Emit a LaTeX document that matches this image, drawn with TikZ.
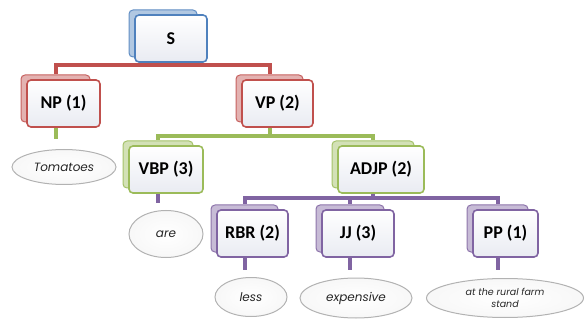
\documentclass[tikz,border=0pt]{standalone}
\usepackage{fontspec}
\setmainfont{Carlito}
\newfontfamily\leaffont{Poppins}
\usetikzlibrary{shapes.geometric,backgrounds}

\definecolor{tred}{HTML}{C0504D}
\definecolor{tgreen}{HTML}{9BBB59}
\definecolor{tpurple}{HTML}{8064A2}
\definecolor{tblue}{HTML}{4F81BD}
\definecolor{boxfill}{HTML}{E9EBF2}

\tikzset{
  backbox/.style={draw=#1!90, line width=1pt, fill=#1!55, fill opacity=0.8,
    rounded corners=4pt, inner sep=0pt},
  frontbox/.style={draw=#1, line width=1.6pt, top color=white, bottom color=boxfill,
    rounded corners=4pt, inner sep=0pt, font=\fontsize{18}{20}\selectfont\bfseries},
  leaf/.style={ellipse, draw=gray!60, line width=1pt, inner color=white,
    outer color=gray!6, inner sep=0pt,
    font=\leaffont\itshape\fontsize{12}{14}\selectfont, text=black!85},
  bus/.style={line width=4pt, draw=#1},
}

% one tree box: name, left, top, right, bottom, colour, label
\newcommand\treebox[7]{%
  \node[backbox=#6, minimum width={#4-#2-4}, minimum height={#5-#3}]
    (#1) at ({(#2+#4)/2-8},{(#3+#5)/2-5}) {};
  \node[frontbox=#6, minimum width={#4-#2}, minimum height={#5-#3}]
    (#1-f) at ({(#2+#4)/2},{(#3+#5)/2}) {#7};
}

\begin{document}
\begin{tikzpicture}[x=1pt,y=-1pt]
  \useasboundingbox (0,0) rectangle (586,323);

  \treebox{s}{135}{15}{207}{62}{tblue}{S}
  \treebox{np}{27}{80}{100}{127}{tred}{NP (1)}
  \treebox{vp}{242}{80}{313}{127}{tred}{VP (2)}
  \treebox{vbp}{129}{146}{203}{193}{tgreen}{VBP (3)}
  \treebox{adjp}{338}{146}{424}{193}{tgreen}{ADJP (2)}
  \treebox{rbr}{217}{210}{288}{257}{tpurple}{RBR (2)}
  \treebox{jj}{322}{210}{394}{257}{tpurple}{JJ (3)}
  \treebox{pp}{473}{210}{538}{257}{tpurple}{PP (1)}

  \node[leaf, minimum width=104, minimum height=35] (tom) at (64,167) {Tomatoes};
  \node[leaf, minimum width=74, minimum height=47] (are) at (166,234) {are};
  \node[leaf, minimum width=72, minimum height=39] (less) at (251,297) {less};
  \node[leaf, minimum width=112, minimum height=40] (exp) at (356,298) {expensive};
  \node[leaf, minimum width=157, minimum height=39, align=center,
        font=\leaffont\itshape\fontsize{9.5}{12}\selectfont] (farm) at (505,298)
        {at the rural farm\\stand};

  % bus heights and the ends of the short stems above the leaves
  \coordinate (busA) at (0,65);
  \coordinate (busB) at (0,136);
  \coordinate (busC) at (0,198);
  \coordinate (tomtop) at (0,139);
  \coordinate (aretop) at (0,203);
  \coordinate (lowtop) at (0,270);

  \begin{scope}[on background layer]
    \draw[bus=tred] (s.south) -- (s.south |- busA) -| (np.north);
    \draw[bus=tred] (s.south |- busA) -| (vp.north);
    \draw[bus=tgreen] (np.south) -- (np.south |- tomtop);
    \draw[bus=tgreen] (vp.south) -- (vp.south |- busB) -| (vbp.north);
    \draw[bus=tgreen] (vp.south |- busB) -| (adjp.north);
    \draw[bus=tpurple] (vbp.south) -- (vbp.south |- aretop);
    \draw[bus=tpurple] (adjp.south) -- (adjp.south |- busC) -| (rbr.north);
    \draw[bus=tpurple] (adjp.south |- busC) -| (jj.north);
    \draw[bus=tpurple] (adjp.south |- busC) -| (pp.north);
    \draw[bus=tpurple] (rbr.south) -- (rbr.south |- lowtop);
    \draw[bus=tpurple] (jj.south) -- (jj.south |- lowtop);
    \draw[bus=tpurple] (pp.south) -- (pp.south |- lowtop);
  \end{scope}
\end{tikzpicture}
\end{document}
